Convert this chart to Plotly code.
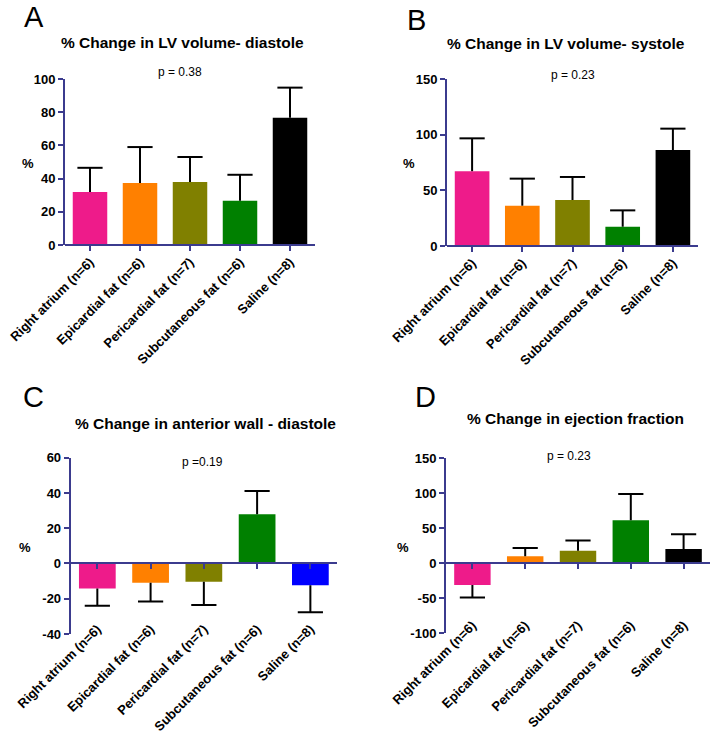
import plotly.graph_objects as go

categories = ["Right atrium (n=6)", "Epicardial fat (n=6)", "Pericardial fat (n=7)",
              "Subcutaneous fat (n=6)", "Saline (n=8)"]

# Panel A: % change in LV volume - diastole
a_mean = [32.0, 37.3, 38.0, 26.7, 76.7]
a_sem = [14.5, 21.7, 15.0, 15.6, 18.1]
a_ticks = [0, 20, 40, 60, 80, 100]
# Panel B: % change in LV volume - systole
b_mean = [67.2, 36.2, 41.3, 17.3, 86.2]
b_sem = [29.5, 24.3, 20.7, 14.7, 19.2]
b_ticks = [0, 50, 100, 150]
# Panel C: % change in anterior wall - diastole
c_mean = [-14.2, -11.0, -10.4, 27.9, -12.3]
c_sem = [9.8, 10.5, 13.2, 13.2, 15.3]
c_ticks = [-40, -20, 0, 20, 40, 60]
# Panel D: % change in ejection fraction
d_mean = [-30.9, 10.0, 18.1, 61.4, 20.6]
d_sem = [18.1, 12.0, 14.3, 37.6, 20.8]
d_ticks = [-100, -50, 0, 50, 100, 150]

titles = ["% Change in LV volume- diastole", "% Change in LV volume- systole",
          "% Change in anterior wall - diastole", "% Change in ejection fraction"]
letters = ["A", "B", "C", "D"]
pvalues = ["p = 0.38", "p = 0.23", "p =0.19", "p = 0.23"]

colors_main = ["#EE1B8A", "#FF8000", "#808000", "#008000", "#000000"]
colors_c = ["#EE1B8A", "#FF8000", "#808000", "#008000", "#0000FF"]

W, H = 712, 735
FONT = "Liberation Sans, Arial, sans-serif"
AXC = "#3B3B8E"

# layout in pixels (left, right, top-of-range, bottom-of-range)
boxes = [(65, 315, 79, 245), (447, 698, 79, 246), (70.7, 337, 457.7, 634), (446, 710, 458.3, 633.3)]
ranges = [(0, 100), (0, 150), (-40, 60), (-100, 150)]
means = [a_mean, b_mean, c_mean, d_mean]
sems = [a_sem, b_sem, c_sem, d_sem]
ticks = [a_ticks, b_ticks, c_ticks, d_ticks]
pal = [colors_main, colors_main, colors_c, colors_main]
label_shift = [6, 6, -16, -19]
letter_pos = [(34, 17), (416, 20), (33, 397), (425, 397)]
title_pos = [(182, 42), (566, 43), (205, 423), (575, 418)]
p_pos = [(180, 72), (573, 75), (202, 462), (569, 456)]
pct_pos = [(28, 163), (409, 163), (25, 547), (403, 547)]

fig = go.Figure()
layout = dict(width=W, height=H, margin=dict(l=0, r=0, t=0, b=0, pad=0, autoexpand=False),
              autosize=False, paper_bgcolor="white", plot_bgcolor="rgba(0,0,0,0)",
              showlegend=False, font=dict(family=FONT, color="black"), annotations=[])

for i in range(4):
    bx = 2 * i + 1
    ov = 2 * i + 2
    xl, xr, yt, yb = boxes[i]
    lo, hi = ranges[i]
    xd = [xl / W, xr / W]
    yd = [1 - yb / H, 1 - yt / H]
    zero_pos = yd[0] + (0 - lo) / (hi - lo) * (yd[1] - yd[0])
    m = means[i]
    s = sems[i]
    tips = [v + e if v >= 0 else v - e for v, e in zip(m, s)]
    back_up = [0 if v >= 0 else e for v, e in zip(m, s)]
    back_down = [e if v >= 0 else 0 for v, e in zip(m, s)]
    fig.add_trace(go.Bar(x=categories, y=m, marker=dict(color=pal[i], line=dict(width=0)),
                         width=0.69, xaxis=f"x{bx}", yaxis=f"y{bx}", hoverinfo="skip"))
    # error bars: cap marker at the tip, stem running back to the bar end
    fig.add_trace(go.Scatter(x=categories, y=tips, mode="markers",
                             marker=dict(symbol="line-ew-open", size=18, color="black",
                                         line=dict(width=2, color="black")),
                             error_y=dict(type="data", symmetric=False, array=back_up,
                                          arrayminus=back_down, color="black", thickness=2,
                                          width=0),
                             xaxis=f"x{bx}", yaxis=f"y{bx}", hoverinfo="skip"))
    # invisible carrier for the label axis
    fig.add_trace(go.Scatter(x=categories, y=[lo] * 5, mode="markers",
                             marker=dict(size=1, opacity=0),
                             xaxis=f"x{ov}", yaxis=f"y{ov}", hoverinfo="skip"))
    layout[f"xaxis{bx}"] = dict(domain=xd, type="category", categoryorder="array",
                                categoryarray=categories, range=[-0.5, 4.5],
                                anchor="free", position=zero_pos, automargin=False,
                                showline=True, linecolor=AXC, linewidth=2,
                                ticks="outside", ticklen=5, tickwidth=2, tickcolor=AXC,
                                showticklabels=False, showgrid=False, zeroline=False,
                                fixedrange=True)
    layout[f"yaxis{bx}"] = dict(domain=yd, range=[lo, hi], anchor=f"x{bx}", automargin=False,
                                showline=True, linecolor=AXC, linewidth=2,
                                ticks="outside", ticklen=5, tickwidth=2, tickcolor=AXC,
                                tickvals=ticks[i], ticktext=[str(t) for t in ticks[i]],
                                showgrid=False, zeroline=False,
                                tickfont=dict(family=FONT, size=13, color="black", weight="bold"),
                                fixedrange=True)
    layout[f"xaxis{ov}"] = dict(overlaying=f"x{bx}", anchor=f"y{ov}", type="category",
                                categoryorder="array", categoryarray=categories,
                                range=[-0.5, 4.5], showline=False, ticks="", automargin=False,
                                showticklabels=True, tickangle=-45, showgrid=False,
                                zeroline=False, ticklabelstandoff=label_shift[i],
                                tickfont=dict(family=FONT, size=13, color="black", weight="bold"),
                                fixedrange=True)
    layout[f"yaxis{ov}"] = dict(overlaying=f"y{bx}", anchor=f"x{ov}", range=[lo, hi],
                                automargin=False, visible=False, showgrid=False,
                                zeroline=False, fixedrange=True)

    lx, ly = letter_pos[i]
    layout["annotations"].append(dict(text=letters[i], x=lx / W, y=1 - ly / H, xref="paper",
                                      yref="paper", xanchor="center", yanchor="middle",
                                      showarrow=False, font=dict(family=FONT, size=29, color="black")))
    tx, ty = title_pos[i]
    layout["annotations"].append(dict(text=titles[i], x=tx / W, y=1 - ty / H, xref="paper",
                                      yref="paper", xanchor="center", yanchor="middle",
                                      showarrow=False,
                                      font=dict(family=FONT, size=15.5, color="black", weight="bold")))
    px_, py_ = p_pos[i]
    layout["annotations"].append(dict(text=pvalues[i], x=px_ / W, y=1 - py_ / H, xref="paper",
                                      yref="paper", xanchor="center", yanchor="middle",
                                      showarrow=False, font=dict(family=FONT, size=12, color="black")))
    qx, qy = pct_pos[i]
    layout["annotations"].append(dict(text="%", x=qx / W, y=1 - qy / H, xref="paper",
                                      yref="paper", xanchor="center", yanchor="middle",
                                      showarrow=False,
                                      font=dict(family=FONT, size=13, color="black", weight="bold")))

fig.update_layout(**layout)
fig.write_html("out.html", config={"displayModeBar": False},
               post_script="document.body.style.margin='0px';")
